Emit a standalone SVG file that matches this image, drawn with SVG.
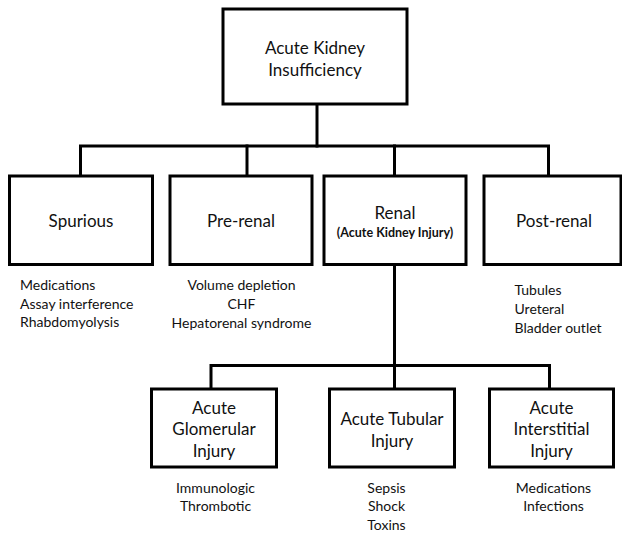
<svg xmlns="http://www.w3.org/2000/svg" width="622" height="533" viewBox="0 0 622 533">
  <style>
    .box { fill: #ffffff; stroke: #000000; stroke-width: 3; }
    .wire { fill: none; stroke: #000000; stroke-width: 3; stroke-linecap: square; }
    text { font-family: Lato, "Open Sans", "Liberation Sans", sans-serif; fill: #111111; }
    .lbl { font-size: 17px; text-anchor: middle; }
    .sub { font-size: 12.5px; font-weight: bold; text-anchor: middle; }
    .lst { font-size: 14px; }
    .mid { text-anchor: middle; }
  </style>
  <rect width="622" height="533" fill="#ffffff"/>

  <!-- connectors -->
  <g id="connectors" class="wire">
    <path d="M317 104 V146"/>
    <path d="M80.5 176 V146 H548.5 V176"/>
    <path d="M247 146 V176"/>
    <path d="M394.5 146 V176"/>
    <path d="M394.5 264.5 V389"/>
    <path d="M211 389 V365.5 H549.5 V389"/>
  </g>

  <!-- root -->
  <g id="aki">
    <rect class="box" x="223" y="9" width="184" height="95"/>
    <text class="lbl" x="315" y="54">Acute Kidney</text>
    <text class="lbl" x="315" y="75.5">Insufficiency</text>
  </g>

  <!-- first level -->
  <g id="spurious">
    <rect class="box" x="9.5" y="176" width="143" height="88.5"/>
    <text class="lbl" x="81" y="227">Spurious</text>
    <text class="lst" x="20" y="290">Medications</text>
    <text class="lst" x="20" y="308.5">Assay interference</text>
    <text class="lst" x="20" y="327">Rhabdomyolysis</text>
  </g>
  <g id="prerenal">
    <rect class="box" x="170" y="176" width="142" height="88.5"/>
    <text class="lbl" x="241" y="227">Pre-renal</text>
    <text class="lst mid" x="241.5" y="290">Volume depletion</text>
    <text class="lst mid" x="241.5" y="308.5">CHF</text>
    <text class="lst mid" x="241.5" y="327.5">Hepatorenal syndrome</text>
  </g>
  <g id="renal">
    <rect class="box" x="324" y="176" width="142" height="88.5"/>
    <text class="lbl" x="395" y="218.5">Renal</text>
    <text class="sub" x="395" y="236.5">(Acute Kidney Injury)</text>
  </g>
  <g id="postrenal">
    <rect class="box" x="484" y="176" width="137" height="88.5"/>
    <text class="lbl" x="554" y="227">Post-renal</text>
    <text class="lst" x="514.5" y="295">Tubules</text>
    <text class="lst" x="514.5" y="314">Ureteral</text>
    <text class="lst" x="514.5" y="333">Bladder outlet</text>
  </g>

  <!-- second level under Renal -->
  <g id="glomerular">
    <rect class="box" x="151.5" y="389" width="125" height="78"/>
    <text class="lbl" x="214" y="413.5">Acute</text>
    <text class="lbl" x="214" y="435">Glomerular</text>
    <text class="lbl" x="214" y="456.5">Injury</text>
    <text class="lst mid" x="215.5" y="492.5">Immunologic</text>
    <text class="lst mid" x="215.5" y="511">Thrombotic</text>
  </g>
  <g id="tubular">
    <rect class="box" x="329.5" y="389" width="125" height="78"/>
    <text class="lbl" x="392" y="425">Acute Tubular</text>
    <text class="lbl" x="392" y="446.5">Injury</text>
    <text class="lst mid" x="386.5" y="492.5">Sepsis</text>
    <text class="lst mid" x="386.5" y="511">Shock</text>
    <text class="lst mid" x="386.5" y="530">Toxins</text>
  </g>
  <g id="interstitial">
    <rect class="box" x="489.5" y="389" width="124" height="78"/>
    <text class="lbl" x="551.5" y="413.5">Acute</text>
    <text class="lbl" x="551.5" y="435">Interstitial</text>
    <text class="lbl" x="551.5" y="456.5">Injury</text>
    <text class="lst mid" x="553.5" y="492.5">Medications</text>
    <text class="lst mid" x="553.5" y="511">Infections</text>
  </g>
</svg>
